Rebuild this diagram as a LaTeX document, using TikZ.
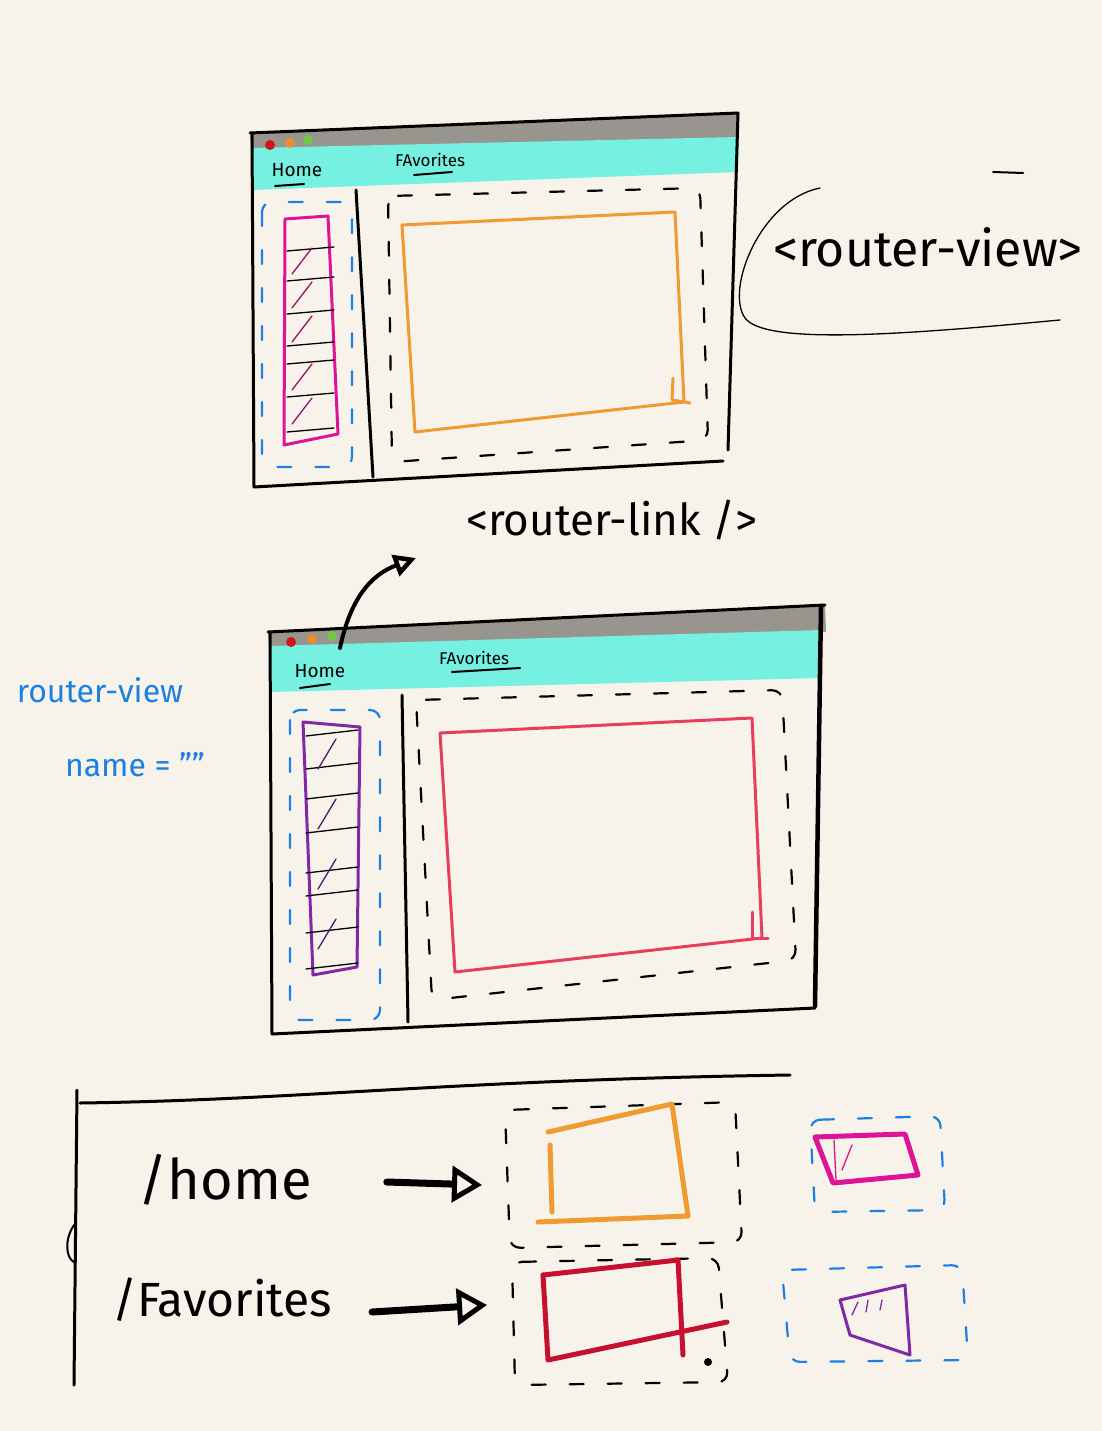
\documentclass[tikz,border=0pt]{standalone}
\usepackage{fontspec}
\setmainfont{Fira Sans}
\usetikzlibrary{arrows.meta}
\definecolor{paper}{RGB}{247,243,234}
\definecolor{barcyan}{RGB}{118,240,224}
\definecolor{bargray}{RGB}{152,148,142}
\definecolor{skorange}{RGB}{240,155,50}
\definecolor{skpink}{RGB}{222,20,150}
\definecolor{skred}{RGB}{232,62,92}
\definecolor{skdarkred}{RGB}{198,16,46}
\definecolor{skpurple}{RGB}{128,40,168}
\definecolor{skblue}{RGB}{28,128,226}
\definecolor{dotred}{RGB}{210,20,30}
\definecolor{dotorange}{RGB}{238,140,50}
\definecolor{dotgreen}{RGB}{110,200,70}

\tikzset{
  pen/.style={line width=3pt, line cap=round, line join=round},
  thinpen/.style={line width=1.3pt, line cap=round},
  dashbox/.style={line width=2.2pt, line cap=round, dash pattern=on 14pt off 24pt, rounded corners=10pt},
  bluebox/.style={dashbox, skblue},
  hand/.style={inner sep=0pt, font=\fontsize{#1}{#1}\selectfont},
  hand/.default=20,
  bigarrow/.style={line width=7pt, line cap=round, -{Triangle[open, length=30pt, width=36pt, line width=5pt]}}
}

\begin{document}
\begin{tikzpicture}[x=1pt, y=-1pt]
\useasboundingbox (0,0) rectangle (1102,1431);
\fill[paper] (0,0) rectangle (1102,1431);

% upper window
\fill[bargray] (250,133) -- (738,113) -- (739,140) -- (251,152) -- cycle;
\fill[barcyan] (251,148) -- (739,137) -- (738,172) -- (252,190) -- cycle;
\foreach \x/\y/\c in {270/145/dotred, 290/143/dotorange, 308/140/dotgreen}{\fill[\c] (\x,\y) circle (5);}
\draw[pen] (250,133) -- (738,113) -- (728,450);
\draw[pen] (252,133) -- (254,487) -- (723,461);
\node[hand=19] (home1) at (297,170) {Home};
\draw[thinpen, line width=2pt] (275,186) -- (304,184);
\node[hand=17] (fav1) at (430,160) {FAvorites};
\draw[thinpen, line width=2pt] (414,175) -- (452,172);
\draw[pen] (356,190) -- (373,477);
\draw[bluebox] (262,202) rectangle (352,467);
\draw[skpink, pen] (285,219) -- (328,216) -- (338,434) -- (284,445) -- cycle;
\foreach \y in {247, 277, 310, 342, 360, 393, 428}{\draw[thinpen] (287,\y+4) -- (334,\y);}
\foreach \y in {262, 296, 330, 378, 412}{\draw[thinpen, skpink!70!black] (292,\y+12) -- (312,\y-14);}
\draw[dashbox] (388,196) -- (700,188) -- (708,440) -- (392,462) -- cycle;
\draw[skorange, pen] (402,225) -- (675,212) -- (684,402) -- (415,432) -- cycle;
\draw[skorange, pen] (673,378) -- (672,400) -- (690,403);

% router-view label
\draw[thinpen] (820,188) .. controls (760,200) and (725,290) .. (745,318) .. controls (765,345) and (900,335) .. (1060,320);
\node[hand=50] (view) at (928,247) {<router-view>};
\draw[thinpen, line width=2pt] (993,172) -- (1023,173);

% lower window
\fill[bargray] (268,632) -- (825,604) -- (826,632) -- (269,650) -- cycle;
\fill[barcyan] (269,646) -- (822,630) -- (821,678) -- (270,692) -- cycle;
\foreach \x/\y/\c in {291/642/dotred, 312/639/dotorange, 332/636/dotgreen}{\fill[\c] (\x,\y) circle (5);}
\draw[pen] (268,632) -- (825,605);
\draw[pen, line width=4.5pt] (821,607) -- (815,1006);
\draw[pen] (270,632) -- (272,1034) -- (815,1008);
\node[hand=19] (home2) at (320,671) {Home};
\draw[thinpen, line width=2pt] (300,688) -- (330,684);
\node[hand=17] (fav2) at (474,658) {FAvorites};
\draw[thinpen, line width=2pt] (452,672) -- (520,668);
\draw[pen] (402,695) -- (408,1022);
\draw[bluebox] (290,710) rectangle (380,1020);
\draw[skpurple, pen] (303,722) -- (360,727) -- (357,967) -- (313,975) -- cycle;
\foreach \y in {730, 763, 793, 827, 867, 890, 927, 963}{\draw[thinpen] (306,\y+6) -- (358,\y);}
\foreach \y in {755, 815, 875, 935}{\draw[thinpen, skpurple!60!black] (318,\y+14) -- (336,\y-16);}
\draw[dashbox] (416,700) -- (782,690) -- (796,960) -- (432,1000) -- cycle;
\draw[skred, pen] (440,733) -- (752,718) -- (762,938) -- (455,972) -- cycle;
\draw[skred, pen] (752,912) -- (752,938) -- (768,938);

% router-link
\node[hand=44] (link) at (612,520) {<router-link />};
\coordinate (linkfoot) at (340,648);
\coordinate (linkhead) at (416,558);
\draw[line width=4pt, line cap=round, -{Triangle[open, length=22pt, width=22pt, line width=4.5pt]}] (linkfoot) .. controls (350,600) and (370,575) .. (linkhead);

% named view label
\node[hand=32, skblue] (named) at (100,690) {router-view};
\node[hand=32, skblue] (nameattr) at (135,765) {name = ""};

% route table
\draw[pen] (80,1103) .. controls (300,1100) and (450,1080) .. (790,1075);
\draw[pen] (77,1090) -- (74,1385);
\draw[thinpen, line width=2pt] (74,1225) .. controls (64,1240) and (66,1258) .. (74,1262);
\node[hand=56] (homepath) at (225,1180) {/home};
\node[hand=48] (favpath) at (222,1300) {/Favorites};
\coordinate (homebox) at (482,1185);
\coordinate (favbox) at (487,1305);
\draw[bigarrow] (homepath.east) ++(75,2) -- (homebox);
\draw[bigarrow] (favpath.east) ++(40,12) -- (favbox);

\draw[dashbox] (505,1110) -- (735,1102) -- (742,1242) -- (510,1248) -- cycle;
\draw[skorange, pen, line width=5pt] (548,1132) -- (672,1104) -- (688,1216);
\draw[skorange, pen, line width=5pt] (550,1145) -- (552,1212);
\draw[skorange, pen, line width=5pt] (538,1222) -- (688,1216);
\draw[bluebox] (810,1120) -- (940,1116) -- (945,1210) -- (815,1212) -- cycle;
\draw[skpink, pen, line width=5pt] (815,1137) -- (905,1134) -- (918,1175) -- (833,1183) -- cycle;
\draw[skpink, thinpen] (834,1140) -- (836,1180);
\draw[skpink, thinpen] (842,1170) -- (852,1145);

\draw[dashbox] (512,1262) -- (718,1258) -- (728,1382) -- (515,1385) -- cycle;
\draw[skdarkred, pen, line width=5pt] (543,1275) -- (678,1260) -- (683,1355);
\draw[skdarkred, pen, line width=5pt] (543,1275) -- (548,1360) -- (727,1322);
\fill (708,1362) circle (4);
\draw[bluebox] (782,1270) -- (962,1265) -- (968,1360) -- (790,1362) -- cycle;
\draw[skpurple, pen] (840,1300) -- (905,1285) -- (910,1355) -- (850,1335) -- cycle;
\draw[skpurple, thinpen] (852,1315) -- (858,1302);
\draw[skpurple, thinpen] (866,1312) -- (868,1300);
\draw[skpurple, thinpen] (880,1310) -- (882,1300);

\end{tikzpicture}
\end{document}
